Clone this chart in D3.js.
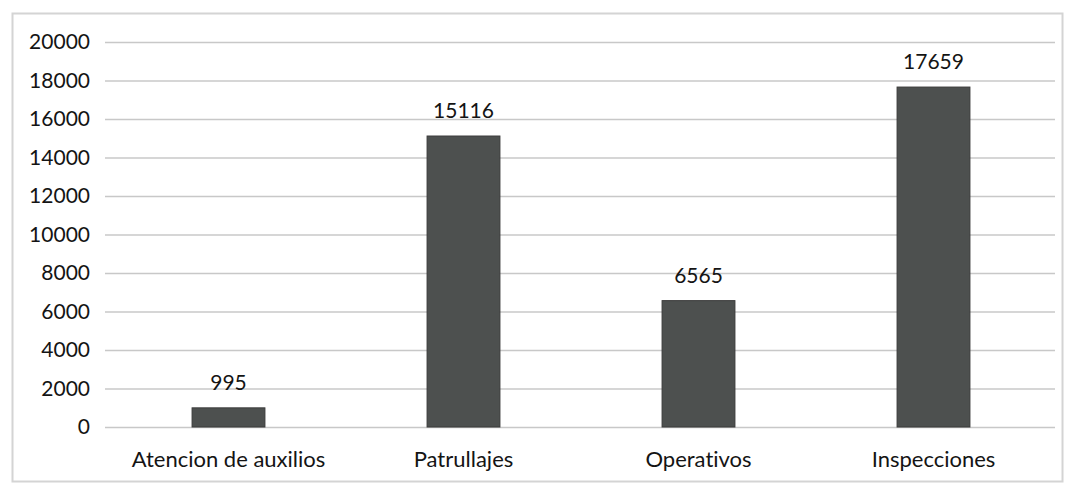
<!DOCTYPE html>
<html><head><meta charset="utf-8">
<script src="https://cdn.jsdelivr.net/npm/d3@7"></script>
<style>body{margin:0;background:#fff;}svg{display:block;}text{font-variant-ligatures:none;font-feature-settings:"liga" 0;}</style>
</head><body>
<svg id="chart" width="1069" height="485"></svg>
<script>
const categories = ["Atencion de auxilios", "Patrullajes", "Operativos", "Inspecciones"];
const values = [995, 15116, 6565, 17659];
const yTicks = [0, 2000, 4000, 6000, 8000, 10000, 12000, 14000, 16000, 18000, 20000];

const svg = d3.select("#chart");
const font = "Lato, 'Open Sans', sans-serif";

svg.append("rect").attr("x", 12.5).attr("y", 13.5).attr("width", 1050).attr("height", 468)
  .attr("fill", "#fff").attr("stroke", "#d4d4d4").attr("stroke-width", 2);

const x = d3.scaleBand().domain(categories).range([111, 1051]).paddingInner(0.69).paddingOuter(0.345);
const y = d3.scaleLinear().domain([0, 20000]).range([427, 42]);

const gy = svg.append("g").attr("transform", "translate(105,0)")
  .call(d3.axisLeft(y).tickValues(yTicks).tickSize(-950).tickPadding(15).tickFormat(d3.format("d")));
gy.select(".domain").remove();
gy.selectAll(".tick line").attr("stroke", "#c8c8c8").attr("stroke-width", 1.5);
gy.selectAll(".tick text").attr("font-family", font).attr("font-size", 21).attr("fill", "#141414");

svg.append("g").selectAll("rect").data(values).join("rect")
  .attr("x", (d, i) => x(categories[i]))
  .attr("width", x.bandwidth())
  .attr("y", d => y(d))
  .attr("height", d => y(0) - y(d))
  .attr("fill", "#4d504f").attr("stroke", "#3a3a3a").attr("stroke-width", 1);

svg.append("g").selectAll("text").data(values).join("text")
  .attr("x", (d, i) => x(categories[i]) + x.bandwidth() / 2)
  .attr("y", d => y(d) - 18)
  .attr("text-anchor", "middle")
  .attr("font-family", font).attr("font-size", 21).attr("fill", "#141414")
  .text(d => d);

const gx = svg.append("g").attr("transform", "translate(0,427)")
  .call(d3.axisBottom(x).tickSize(0).tickPadding(24));
gx.select(".domain").remove();
gx.selectAll(".tick text").attr("font-family", font).attr("font-size", 22).attr("fill", "#141414")
  .attr("dy", "0.71em");
</script>
</body></html>
